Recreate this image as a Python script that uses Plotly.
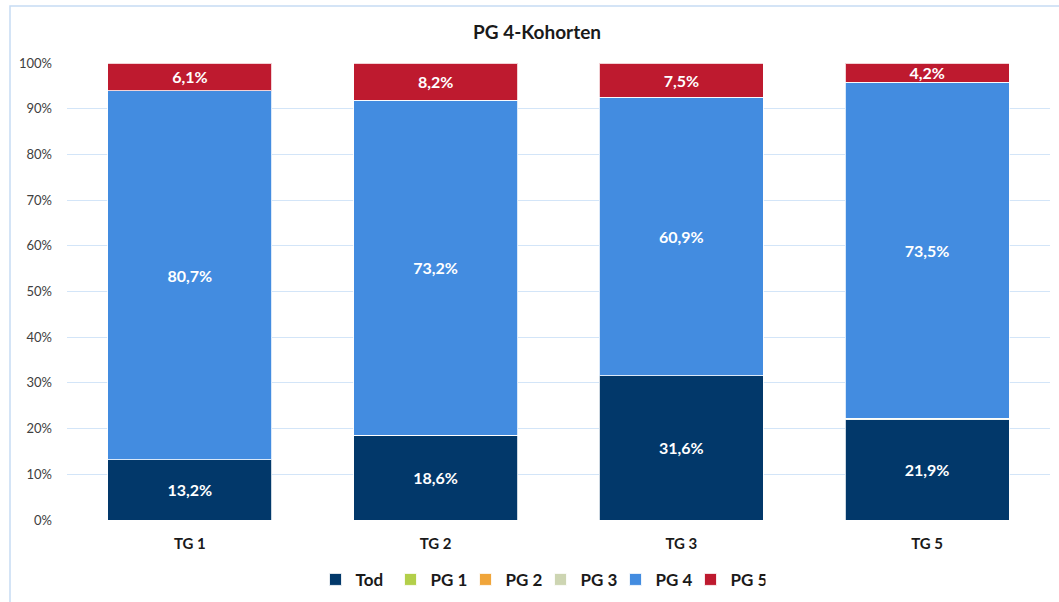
import plotly.graph_objects as go

categories = ["TG 1", "TG 2", "TG 3", "TG 5"]
series_names = ["Tod", "PG 1", "PG 2", "PG 3", "PG 4", "PG 5"]
tod = [13.2, 18.6, 31.6, 21.9]
pg1 = [0.0, 0.0, 0.0, 0.0]
pg2 = [0.0, 0.0, 0.0, 0.0]
pg3 = [0.0, 0.0, 0.0, 0.4]
pg4 = [80.7, 73.2, 60.9, 73.5]
pg5 = [6.1, 8.2, 7.5, 4.2]
colors = ["#02386a", "#b3cf4a", "#f0a53a", "#cdd5b2", "#438ce0", "#be1a2f"]
show_labels = [True, False, False, False, True, True]

FONT = "Lato, 'Noto Sans', sans-serif"

fig = go.Figure()
for name, vals, col, lab in zip(series_names, [tod, pg1, pg2, pg3, pg4, pg5], colors, show_labels):
    texts = [("%.1f%%" % v).replace(".", ",") if lab else "" for v in vals]
    fig.add_trace(go.Bar(
        x=categories, y=vals, name=name,
        marker=dict(color=col, line=dict(color="rgba(255,255,255,0.8)", width=1)),
        text=texts, textposition="inside", insidetextanchor="middle",
        constraintext="none",
        textfont=dict(color="white", size=16, family=FONT, weight="bold"),
        textangle=0, hoverinfo="skip",
    ))

fig.update_layout(
    barmode="stack", bargap=0.333,
    width=1059, height=602,
    margin=dict(l=67, r=9, t=63, b=82, autoexpand=False),
    paper_bgcolor="white", plot_bgcolor="white",
    font=dict(family=FONT, color="#404040"),
    title=dict(text="<b>PG 4-Kohorten</b>", x=537 / 1059, xref="container", xanchor="center",
               y=1 - 32 / 602, yref="container", yanchor="middle",
               font=dict(size=19, color="#1a1a1a", family=FONT)),
    legend=dict(orientation="h", x=0.5 - 18 / 983, xanchor="center", y=-0.131, yanchor="middle",
                font=dict(size=17, color="#1a1a1a", family=FONT, weight="bold"),
                traceorder="normal", itemwidth=30, entrywidth=30, entrywidthmode="pixels"),
    showlegend=True,
)
fig.update_yaxes(range=[0, 100], tickvals=[0, 10, 20, 30, 40, 50, 60, 70, 80, 90, 100],
                 ticktext=["0%", "10%", "20%", "30%", "40%", "50%", "60%", "70%", "80%", "90%", "100%"],
                 showgrid=True, gridcolor="#d3e5f8", gridwidth=1, zeroline=False,
                 tickfont=dict(size=13, color="#404040"), ticks="", ticklabelstandoff=14,
                 showline=False)
fig.update_xaxes(showgrid=False, tickfont=dict(size=15, color="#1a1a1a", weight="bold"),
                 showline=False, ticks="", ticklabelstandoff=13)
fig.add_shape(type="rect", xref="paper", yref="paper",
              x0=(10 - 67) / 983, x1=1.05, y0=-0.3, y1=1 + (63 - 6) / 457,
              line=dict(color="#c6dcf4", width=1.5), fillcolor="rgba(0,0,0,0)", layer="below")
fig.write_html("out.html", config={"displayModeBar": False},
               post_script="document.body.style.margin='0';document.body.style.overflow='hidden';")
